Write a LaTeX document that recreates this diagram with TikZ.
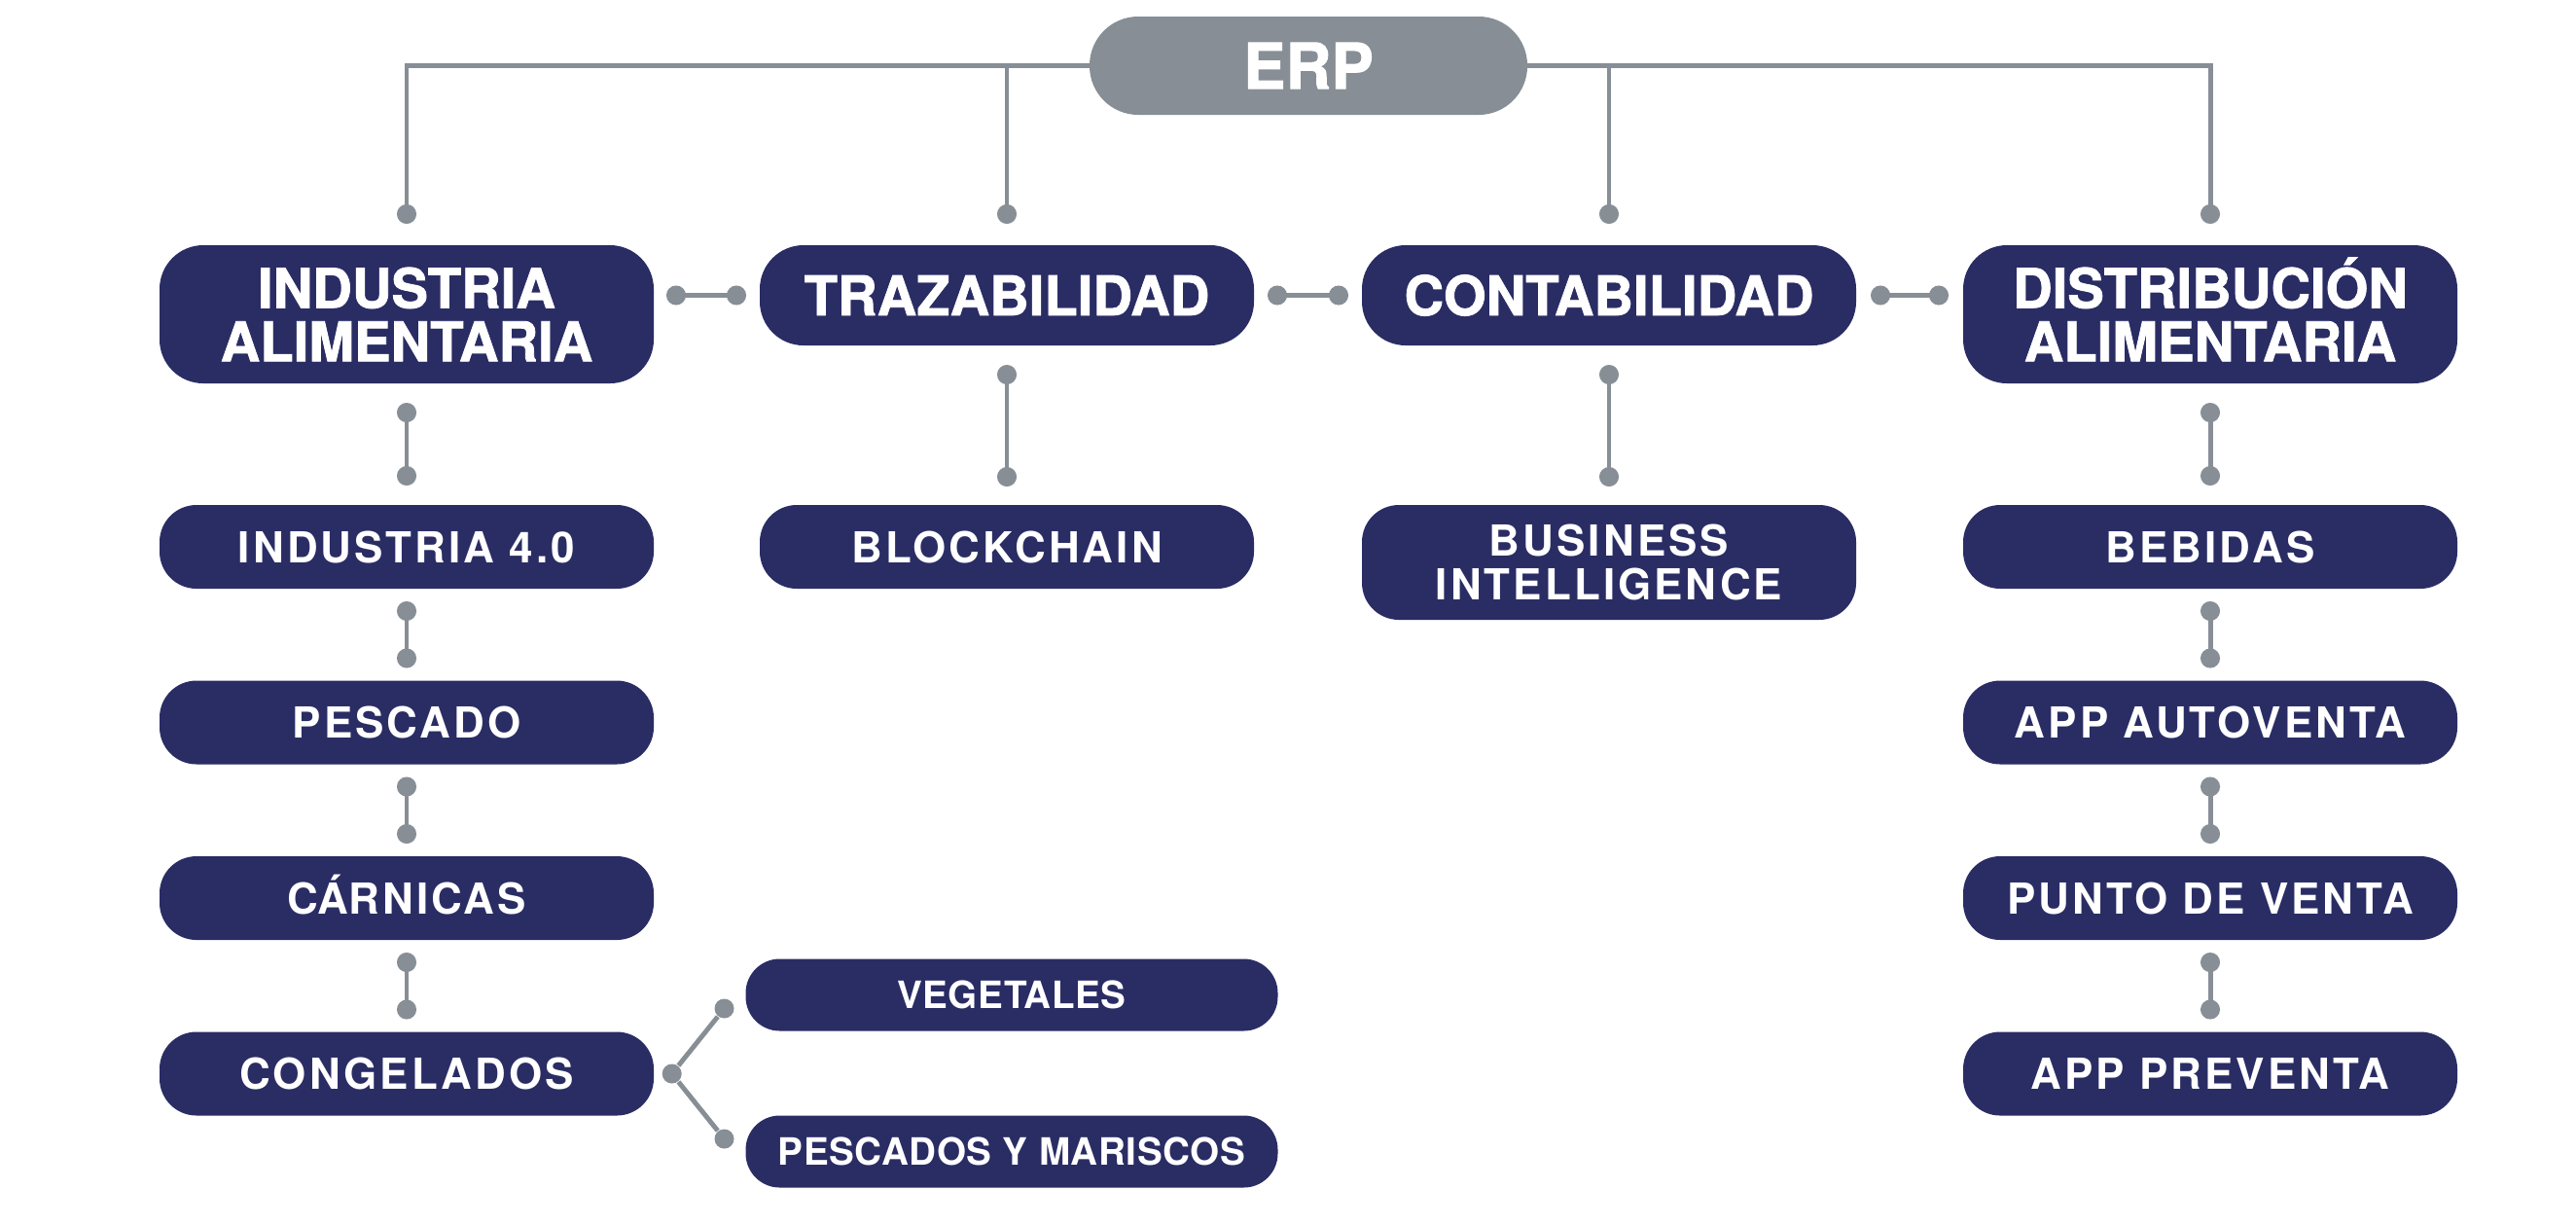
\documentclass[tikz,border=0pt]{standalone}
\usepackage{fontspec}
\setmainfont{TeX Gyre Heros}
\newfontfamily\heavyfont{TeX Gyre Heros}[BoldFeatures={FakeBold=1.4}]
\newfontfamily\trackfont{TeX Gyre Heros}[LetterSpace=7]
\newfontfamily\leaffont{TeX Gyre Heros}[LetterSpace=1.5]
\usepackage{xcolor}
\usepackage{tikz}
\usetikzlibrary{shapes,arrows,positioning,calc,arrows.meta}

\definecolor{erpnavy}{HTML}{2A2D64}
\definecolor{erpgray}{HTML}{878E96}

\begin{document}
\begin{tikzpicture}[
    erp top/.style={rectangle, rounded corners=5mm, fill=erpgray, text=white, minimum width=4.5cm, minimum height=1.01cm, inner sep=0pt, outer sep=0pt, font=\heavyfont\fontsize{18.5}{18.5}\selectfont\bfseries},
    erp main/.style={rectangle, rounded corners=4.5mm, fill=erpnavy, text=white, minimum width=5.08cm, minimum height=1.03cm, inner sep=0pt, outer sep=0pt, align=center, font=\heavyfont\fontsize{16}{15.6}\selectfont\bfseries},
    erp sub/.style={rectangle, rounded corners=3.8mm, fill=erpnavy, text=white, minimum width=5.08cm, minimum height=0.86cm, inner sep=0pt, outer sep=0pt, align=center, font=\trackfont\fontsize{12.5}{12.8}\selectfont\bfseries},
    erp leaf/.style={erp sub, rounded corners=3.5mm, minimum width=5.47cm, minimum height=0.74cm, font=\leaffont\fontsize{11}{11}\selectfont\bfseries},
    erp dot/.style={circle, fill=erpgray, inner sep=0pt, minimum size=2mm},
    erp line/.style={draw=erpgray, line width=1.4pt},
    erp drop/.style={erp line, -{Circle[length=2mm]}},
    erp link/.style={erp line, {Circle[length=2mm]}-{Circle[length=2mm]}}]

    \useasboundingbox (0,0) rectangle (26.48,-12.58);

    \node [erp top] (erp) at (13.45,-0.675) {ERP};

    \node [erp main, minimum height=1.42cm] (ia) at (4.18,-3.23) {INDUSTRIA\\ALIMENTARIA};
    \node [erp main] (traz) at (10.35,-3.035) {TRAZABILIDAD};
    \node [erp main] (cont) at (16.54,-3.035) {CONTABILIDAD};
    \node [erp main, minimum height=1.42cm] (dist) at (22.72,-3.23) {DISTRIBUCI\smash{Ó}N\\ALIMENTARIA};

    \node [erp sub, below=1.25cm of ia] (i40) {INDUSTRIA 4.0};
    \node [erp sub, below=0.945cm of i40] (pescado) {PESCADO};
    \node [erp sub, below=0.945cm of pescado] (carnicas) {C\smash{Á}RNICAS};
    \node [erp sub, below=0.945cm of carnicas] (cong) {CONGELADOS};

    \node [erp leaf] (veg) at (10.40,-10.225) {VEGETALES};
    \node [erp leaf] (pym) at (10.40,-11.835) {PESCADOS Y MARISCOS};

    \node [erp sub, below=1.64cm of traz] (block) {BLOCKCHAIN};
    \node [erp sub, below=1.64cm of cont, minimum height=1.18cm] (bi) {BUSINESS\\INTELLIGENCE};

    \node [erp sub, below=1.25cm of dist] (bebidas) {BEBIDAS};
    \node [erp sub, below=0.945cm of bebidas] (autov) {APP AUTOVENTA};
    \node [erp sub, below=0.945cm of autov] (pventa) {PUNTO DE VENTA};
    \node [erp sub, below=0.945cm of pventa] (prev) {APP PREVENTA};

    \draw [erp drop] (erp.west) -| ([yshift=2.2mm]ia.north);
    \draw [erp drop] (erp.west) -| ([yshift=2.2mm]traz.north);
    \draw [erp drop] (erp.east) -| ([yshift=2.2mm]cont.north);
    \draw [erp drop] (erp.east) -| ([yshift=2.2mm]dist.north);

    \draw [erp link] ($(ia.east |- traz.east)+(1.3mm,0)$) -- ($(traz.west)+(-1.4mm,0)$);
    \draw [erp link] ($(traz.east)+(1.4mm,0)$) -- ($(cont.west)+(-1.4mm,0)$);
    \draw [erp link] ($(cont.east)+(1.5mm,0)$) -- ($(dist.west |- cont.west)+(-1.5mm,0)$);

    \draw [erp link] ([yshift=-2mm]ia.south) -- ([yshift=2mm]i40.north);
    \draw [erp link] ([yshift=-1.3mm]i40.south) -- ([yshift=1.3mm]pescado.north);
    \draw [erp link] ([yshift=-1.3mm]pescado.south) -- ([yshift=1.3mm]carnicas.north);
    \draw [erp link] ([yshift=-1.3mm]carnicas.south) -- ([yshift=1.3mm]cong.north);

    \draw [erp link] ([yshift=-2mm]traz.south) -- ([yshift=1.9mm]block.north);
    \draw [erp link] ([yshift=-2mm]cont.south) -- ([yshift=1.9mm]bi.north);

    \draw [erp link] ([yshift=-2mm]dist.south) -- ([yshift=2mm]bebidas.north);
    \draw [erp link] ([yshift=-1.3mm]bebidas.south) -- ([yshift=1.3mm]autov.north);
    \draw [erp link] ([yshift=-1.3mm]autov.south) -- ([yshift=1.3mm]pventa.north);
    \draw [erp link] ([yshift=-1.3mm]pventa.south) -- ([yshift=1.3mm]prev.north);

    \node [erp dot, right=0.08cm of cong] (fork) {};
    \node [erp dot] (vdot) at ($(veg.west)+(-0.22,-0.14)$) {};
    \node [erp dot] (pdot) at ($(pym.west)+(-0.22,0.13)$) {};
    \draw [erp line] (fork) -- (vdot);
    \draw [erp line] (fork) -- (pdot);

\end{tikzpicture}
\end{document}
